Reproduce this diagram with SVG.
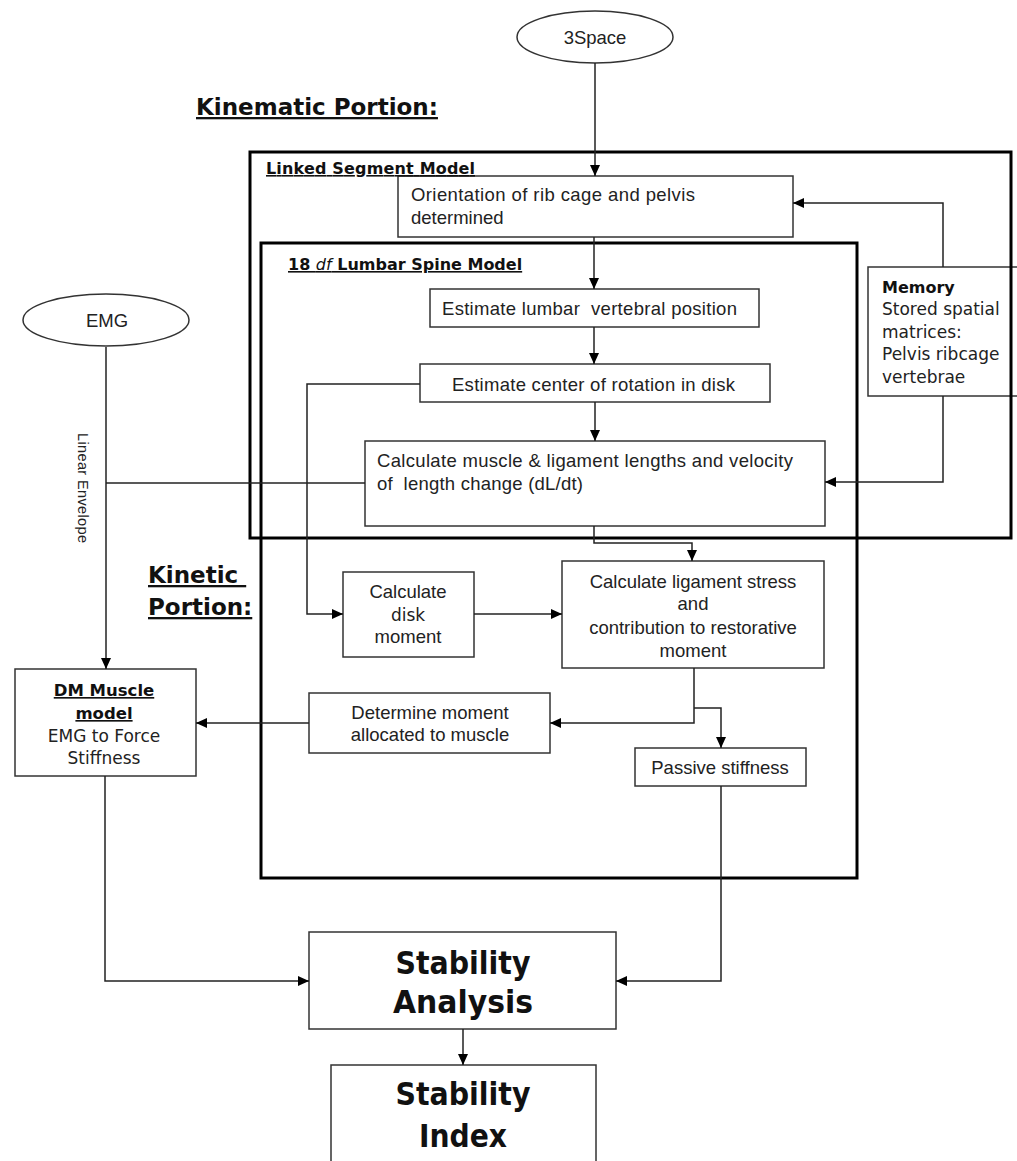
<svg xmlns="http://www.w3.org/2000/svg" width="1017" height="1161" viewBox="0 0 1017 1161">
<defs>
<marker id="arr" markerUnits="userSpaceOnUse" markerWidth="12" markerHeight="10" refX="11" refY="5" orient="auto">
<path d="M0,0 L11,5 L0,10 Z" fill="#000"/>
</marker>
<style>
.box{fill:#fff;stroke:#333;stroke-width:1.5}
.frame{fill:none;stroke:#000;stroke-width:3}
.t{font-family:"Liberation Sans",Arial,sans-serif;font-size:18.5px;fill:#222}
.d{font-family:"DejaVu Sans",Verdana,sans-serif;font-size:17px;fill:#222}
.db{font-family:"DejaVu Sans",Verdana,sans-serif;font-weight:bold;fill:#111}
.u{text-decoration:underline}
.m{text-anchor:middle}
.big{font-family:"DejaVu Sans",Verdana,sans-serif;font-weight:bold;font-size:32px;fill:#111;text-anchor:middle}
.c{fill:none;stroke:#222;stroke-width:1.5}
</style>
</defs>
<rect width="1017" height="1161" fill="#fff"/>

<g id="label-kinematic"><text class="db u" x="196" y="115" font-size="23">Kinematic Portion:</text></g>
<g id="label-kinetic"><text class="db u" x="148" y="583" font-size="23" xml:space="preserve">Kinetic </text><text class="db u" x="148" y="615" font-size="23">Portion:</text></g>

<g id="node-3space"><ellipse cx="595" cy="37" rx="78" ry="26" class="box"/><text class="t m" x="595" y="44">3Space</text></g>
<g id="node-emg"><ellipse cx="106" cy="320" rx="83" ry="26" class="box"/><text class="t m" x="107" y="327">EMG</text></g>

<g id="node-memory"><rect x="868" y="267" width="160" height="129" fill="none" stroke="#333" stroke-width="1.5"/>
<text class="db" x="882" y="293" font-size="16">Memory</text>
<text class="d" x="882" y="315">Stored spatial</text>
<text class="d" x="882" y="338">matrices:</text>
<text class="d" x="882" y="360">Pelvis ribcage</text>
<text class="d" x="882" y="383">vertebrae</text></g>

<g id="frame-linked"><rect x="250" y="152" width="761" height="386" class="frame"/></g>
<g id="frame-lumbar"><rect x="261" y="243" width="596" height="635" class="frame"/></g>

<g id="node-orientation"><rect x="398" y="176" width="395" height="61" class="box"/>
<text class="t" x="411" y="201" textLength="284">Orientation of rib cage and pelvis</text>
<text class="t" x="411" y="224">determined</text></g>
<g id="title-linked"><text class="db u" x="266" y="174" font-size="16" textLength="209">Linked Segment Model</text></g>
<g id="title-lumbar"><text class="db u" x="288" y="270" font-size="16">18 <tspan font-style="italic" font-weight="normal">df</tspan> Lumbar Spine Model</text></g>

<g id="node-lumbar"><rect x="430" y="289" width="329" height="38" class="box"/>
<text class="t" x="442" y="315" textLength="295" xml:space="preserve">Estimate lumbar  vertebral position</text></g>
<g id="node-center"><rect x="420" y="364" width="350" height="38" class="box"/>
<text class="t" x="452" y="391" textLength="283">Estimate center of rotation in disk</text></g>
<g id="node-muscle-len"><rect x="365" y="441" width="460" height="85" class="box"/>
<text class="t" x="377" y="467" textLength="416">Calculate muscle &amp; ligament lengths and velocity</text>
<text class="t" x="377" y="490" xml:space="preserve" textLength="206">of  length change (dL/dt)</text></g>

<g id="node-disk"><rect x="343" y="572" width="131" height="85" class="box"/>
<text class="t m" x="408" y="598">Calculate</text>
<text class="d m" x="408" y="621" font-size="18">disk</text>
<text class="t m" x="408" y="643">moment</text></g>
<g id="node-ligament"><rect x="562" y="561" width="262" height="107" class="box"/>
<text class="t m" x="693" y="588">Calculate ligament stress</text>
<text class="t m" x="693" y="610">and</text>
<text class="t m" x="693" y="634">contribution to restorative</text>
<text class="t m" x="693" y="657">moment</text></g>
<g id="node-determine"><rect x="309" y="693" width="241" height="60" class="box"/>
<text class="t m" x="430" y="719">Determine moment</text>
<text class="t m" x="430" y="741">allocated to muscle</text></g>
<g id="node-passive"><rect x="635" y="748" width="171" height="38" class="box"/>
<text class="t m" x="720" y="774">Passive stiffness</text></g>
<g id="node-dm"><rect x="15" y="669" width="181" height="107" class="box"/>
<text class="db u m" x="104" y="696" font-size="16.5">DM Muscle</text>
<text class="db u m" x="104" y="719" font-size="16.5">model</text>
<text class="d m" x="104" y="742">EMG to Force</text>
<text class="d m" x="104" y="764">Stiffness</text></g>
<g id="node-analysis"><rect x="309" y="932" width="307" height="97" class="box"/>
<text class="big" x="463" y="974" textLength="135" lengthAdjust="spacingAndGlyphs">Stability</text>
<text class="big" x="463" y="1013" textLength="140" lengthAdjust="spacingAndGlyphs">Analysis</text></g>
<g id="node-index"><rect x="331" y="1065" width="265" height="110" class="box"/>
<text class="big" x="463" y="1105" textLength="135" lengthAdjust="spacingAndGlyphs">Stability</text>
<text class="big" x="463" y="1147" textLength="88" lengthAdjust="spacingAndGlyphs">Index</text></g>

<g id="connectors">
<path class="c" d="M595,63 V176" marker-end="url(#arr)"/>
<path class="c" d="M943,267 V203 H793" marker-end="url(#arr)"/>
<path class="c" d="M594,237 V289" marker-end="url(#arr)"/>
<path class="c" d="M594,327 V364" marker-end="url(#arr)"/>
<path class="c" d="M595,402 V441" marker-end="url(#arr)"/>
<path class="c" d="M943,396 V482 H825" marker-end="url(#arr)"/>
<path class="c" d="M420,384 H307 V614 H343" marker-end="url(#arr)"/>
<path class="c" d="M474,614 H562" marker-end="url(#arr)"/>
<path class="c" d="M594,526 V543 H692 V561" marker-end="url(#arr)"/>
<path class="c" d="M694,668 V723 H550" marker-end="url(#arr)"/>
<path class="c" d="M694,708 H721 V748" marker-end="url(#arr)"/>
<path class="c" d="M309,723 H196" marker-end="url(#arr)"/>
<path class="c" d="M106,347 V669" marker-end="url(#arr)"/>
<path class="c" d="M365,483 H106"/>
<path class="c" d="M105,776 V981 H309" marker-end="url(#arr)"/>
<path class="c" d="M721,786 V981 H616" marker-end="url(#arr)"/>
<path class="c" d="M463,1029 V1065" marker-end="url(#arr)"/>
<text x="83" y="488" transform="rotate(90 83 488)" font-family="Liberation Sans, Arial, sans-serif" font-size="14.5" fill="#222" text-anchor="middle" dominant-baseline="central" textLength="110">Linear Envelope</text>
</g>
</svg>
